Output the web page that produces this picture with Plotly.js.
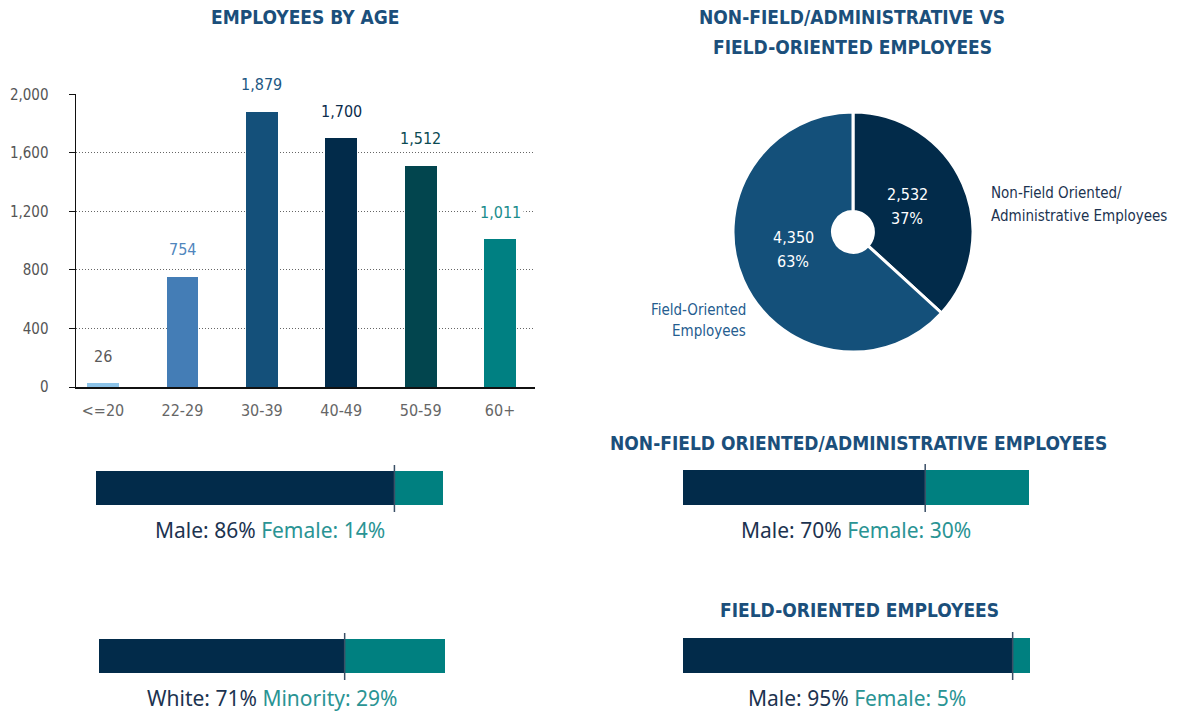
<!DOCTYPE html>
<html>
<head>
<meta charset="utf-8">
<script src="https://cdn.plot.ly/plotly-3.0.1.min.js"></script>
<style>html,body{margin:0;padding:0;background:#fff;}#chart{width:1177px;height:713px;}</style>
</head>
<body>
<div id="chart"></div>
<script>
// ---- Data ----
const ageGroups = ['<=20', '22-29', '30-39', '40-49', '50-59', '60+'];
const ageCounts = [26, 754, 1879, 1700, 1512, 1011];
const ageBarColors = ['#8cc3e8', '#447db6', '#14507a', '#022b4a', '#02454e', '#008082'];
const ageLabelColors = ['#5a5a5a', '#4f86bd', '#1d5783', '#0d2d4c', '#0b4a52', '#1a8c8c'];
const yTicks = [0, 400, 800, 1200, 1600, 2000];

const pieLabels = ['Non-Field Oriented/<br>Administrative Employees', 'Field-Oriented<br>Employees'];
const pieValues = [2532, 4350];
const pieColors = ['#022b4a', '#14507a'];

const splitNames = ['All employees by gender', 'All employees by ethnicity', 'Non-field by gender', 'Field by gender'];
const splitLeftLabels = ['Male', 'White', 'Male', 'Male'];
const splitRightLabels = ['Female', 'Minority', 'Female', 'Female'];
const splitLeftValues = [86, 71, 70, 95];
const splitRightValues = [14, 29, 30, 5];

// ---- Styling ----
const W = 1177, H = 713;
const px = x => x / W;
const py = y => 1 - y / H;
const narrow = '"DejaVu Sans Condensed", "Liberation Sans Narrow", sans-serif';
const plain = '"Noto Sans", "Open Sans", sans-serif';
const titleColor = '#1b4f7b';
const navy = '#022b4a', teal = '#008080';
const navyText = '#1c3350', tealText = '#2a9494';

const traces = [];
const annotations = [];
const shapes = [];

// Age bar chart
traces.push({
  type: 'bar', x: ageGroups, y: ageCounts, xaxis: 'x', yaxis: 'y',
  marker: {color: ageBarColors}, width: 0.4, hoverinfo: 'x+y', showlegend: false
});
ageGroups.forEach((g, i) => {
  annotations.push({
    xref: 'x', yref: 'y', x: g, y: ageCounts[i], yshift: 27, yanchor: 'middle',
    text: ageCounts[i].toLocaleString('en-US'), showarrow: false,
    bgcolor: '#ffffff', borderpad: 2,
    font: {family: narrow, size: 16, color: ageLabelColors[i]}
  });
});

// Pie
const pieTotal = pieValues.reduce((a, b) => a + b, 0);
traces.push({
  type: 'pie', labels: pieLabels, values: pieValues, sort: false, direction: 'clockwise', rotation: 0,
  hole: 0.17, marker: {colors: pieColors, line: {color: '#ffffff', width: 3}},
  domain: {x: [px(733), px(973)], y: [py(352), py(112)]},
  textinfo: 'none', showlegend: false, hoverinfo: 'label+value+percent'
});
const pieInsidePos = [{x: 907, y: 194}, {x: 793, y: 237}];
pieValues.forEach((v, i) => {
  const p = pieInsidePos[i];
  annotations.push({xref: 'paper', yref: 'paper', x: px(p.x), y: py(p.y), xanchor: 'center', yanchor: 'middle',
    showarrow: false, text: v.toLocaleString('en-US'), font: {family: narrow, size: 16, color: '#ffffff'}});
  annotations.push({xref: 'paper', yref: 'paper', x: px(p.x), y: py(p.y + 24), xanchor: 'center', yanchor: 'middle',
    showarrow: false, text: Math.round(100 * v / pieTotal) + '%', font: {family: narrow, size: 16, color: '#ffffff'}});
});
const pieOutside = [
  {x: 989, y: 193, dy: 23, anchor: 'left', color: '#1c3350'},
  {x: 748, y: 310, dy: 21, anchor: 'right', color: '#255d8f'}
];
pieLabels.forEach((lab, i) => {
  const o = pieOutside[i];
  lab.split('<br>').forEach((line, j) => annotations.push({
    xref: 'paper', yref: 'paper', x: px(o.x), y: py(o.y + j * o.dy), xanchor: o.anchor, yanchor: 'middle',
    text: line, showarrow: false, font: {family: narrow, size: 15, color: o.color}
  }));
});

// Split bars
const splitBoxes = [
  {x0: 96, x1: 443, y0: 471, y1: 505, ty: 530},
  {x0: 99, x1: 445, y0: 639, y1: 673, ty: 698},
  {x0: 683, x1: 1029, y0: 470, y1: 505, ty: 530},
  {x0: 683, x1: 1030, y0: 638, y1: 673, ty: 698}
];
const layoutAxes = {};
splitNames.forEach((name, i) => {
  const n = i + 2;
  const b = splitBoxes[i];
  layoutAxes['xaxis' + n] = {domain: [px(b.x0), px(b.x1)], range: [0, 100], visible: false, fixedrange: true, anchor: 'y' + n};
  layoutAxes['yaxis' + n] = {domain: [py(b.y1), py(b.y0)], range: [-0.5, 0.5], visible: false, fixedrange: true, anchor: 'x' + n};
  traces.push({type: 'bar', orientation: 'h', x: [splitLeftValues[i]], y: [0], width: 1, name: splitLeftLabels[i],
    xaxis: 'x' + n, yaxis: 'y' + n, marker: {color: navy}, showlegend: false, hoverinfo: 'name+x'});
  traces.push({type: 'bar', orientation: 'h', x: [splitRightValues[i]], y: [0], width: 1, name: splitRightLabels[i],
    xaxis: 'x' + n, yaxis: 'y' + n, marker: {color: teal}, showlegend: false, hoverinfo: 'name+x'});
  shapes.push({type: 'line', xref: 'x' + n, yref: 'paper', x0: splitLeftValues[i], x1: splitLeftValues[i],
    y0: py(b.y1 + 7), y1: py(b.y0 - 6), line: {color: '#3a4f66', width: 1.5}});
  annotations.push({
    xref: 'paper', yref: 'paper', x: px((b.x0 + b.x1) / 2), y: py(b.ty), xanchor: 'center', yanchor: 'middle',
    showarrow: false, font: {family: plain, size: 21, color: navyText},
    text: '<span style="color:' + navyText + '">' + splitLeftLabels[i] + ': ' + splitLeftValues[i] + '%</span> ' +
          '<span style="color:' + tealText + '">' + splitRightLabels[i] + ': ' + splitRightValues[i] + '%</span>'
  });
});

// Titles
const titles = [
  {x: 305, y: 17, t: 'EMPLOYEES BY AGE'},
  {x: 852, y: 17, t: 'NON-FIELD/ADMINISTRATIVE VS'},
  {x: 852, y: 47, t: 'FIELD-ORIENTED EMPLOYEES'},
  {x: 858, y: 443, t: 'NON-FIELD ORIENTED/ADMINISTRATIVE EMPLOYEES'},
  {x: 859, y: 610, t: 'FIELD-ORIENTED EMPLOYEES'}
];
titles.forEach(o => annotations.push({
  xref: 'paper', yref: 'paper', x: px(o.x), y: py(o.y), xanchor: 'center', yanchor: 'middle',
  showarrow: false, text: '<b>' + o.t + '</b>', align: 'center',
  font: {family: narrow, size: 19, color: titleColor}
}));

const layout = Object.assign({
  width: W, height: H, margin: {l: 0, r: 0, t: 0, b: 0},
  paper_bgcolor: '#ffffff', plot_bgcolor: '#ffffff',
  barmode: 'stack', showlegend: false,
  xaxis: {
    domain: [px(76), px(535)], range: [-0.34, 5.44], type: 'category',
    showline: true, linecolor: '#111111', linewidth: 2, showgrid: false, zeroline: false,
    ticks: '', tickfont: {family: narrow, size: 16, color: '#666666'}, ticklabelstandoff: 8,
    anchor: 'y', fixedrange: true
  },
  yaxis: {
    domain: [py(387), py(94)], range: [0, 2002], tickvals: yTicks, tickformat: ',',
    showline: true, linecolor: '#111111', linewidth: 1.5,
    showgrid: true, gridcolor: '#666666', griddash: '1px,2px', gridwidth: 1, zeroline: false,
    ticks: 'outside', ticklen: 6, tickcolor: '#111111', tickwidth: 1,
    tickfont: {family: narrow, size: 15, color: '#555555'}, ticklabelstandoff: 17,
    anchor: 'x', fixedrange: true
  },
  annotations: annotations,
  shapes: shapes
}, layoutAxes);

Plotly.newPlot('chart', traces, layout, {displayModeBar: false, staticPlot: true});
</script>
</body>
</html>
